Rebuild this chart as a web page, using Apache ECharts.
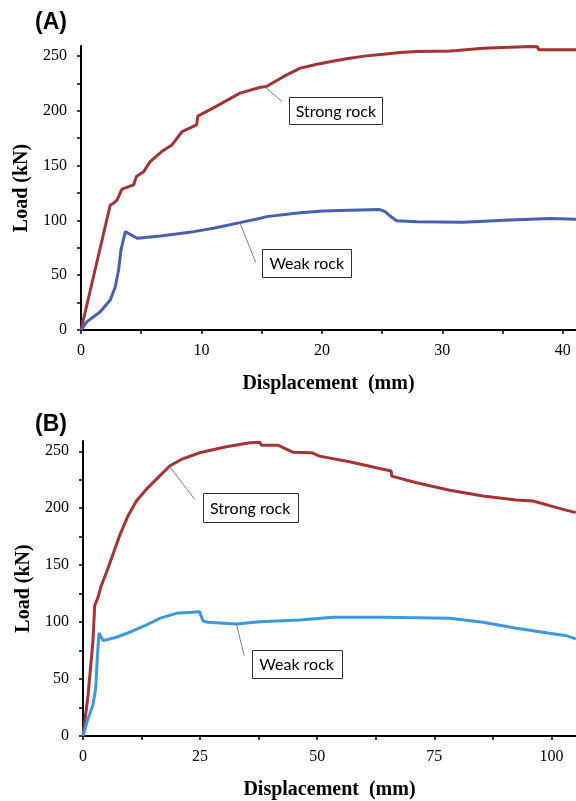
<!DOCTYPE html>
<html>
<head>
<meta charset="utf-8">
<script src="https://cdn.jsdelivr.net/npm/echarts@6/dist/echarts.min.js"></script>
<style>
html,body{margin:0;padding:0;background:#fff;}
#chart{width:576px;height:801px;}
</style>
</head>
<body>
<div id="chart"></div>
<script>
// ---- Panel A data (Displacement mm, Load kN) ----
const strongA_x = [0, 2.43, 2.7, 2.85, 3.0, 3.4, 4.37, 4.6, 5.2, 5.75, 6.7, 7.55, 8.4, 9.6, 9.7, 11.3, 13.2, 14.9, 15.4, 16.8, 18.2, 19.6, 21.0, 22.3, 23.7, 25.1, 26.5, 27.9, 30.6, 31.2, 33.4, 37.3, 37.9, 38.0, 41.1];
const strongA_y = [0, 114, 115.6, 114, 118.6, 128.4, 132.3, 140, 144.4, 153.6, 162.7, 168.8, 181, 187, 195, 204.4, 216, 221.4, 222, 231, 238.8, 242.4, 245.4, 247.9, 250, 251.5, 253, 253.9, 254.5, 255, 257, 258.5, 258.3, 255.5, 255.5];
const weakA_x = [0, 0.5, 1.6, 2.43, 2.85, 3.12, 3.32, 3.68, 4.65, 6.6, 9.35, 11.0, 13.2, 14.9, 15.4, 18.2, 20.1, 22.3, 24.8, 25.25, 25.8, 26.2, 27.9, 31.75, 35.6, 39.0, 41.1];
const weakA_y = [0, 7.6, 16.7, 27.4, 39.5, 54.7, 73, 89.7, 83.7, 85.8, 89.7, 92.8, 97.9, 101.9, 103.4, 107, 108.6, 109.2, 109.8, 108, 102.8, 99.7, 98.8, 98.2, 100.4, 101.6, 101];

// ---- Panel B data ----
const strongB_x = [0, 1.07, 2.1, 2.5, 3.2, 3.9, 5.0, 6.4, 7.8, 9.6, 11.4, 13.5, 16.0, 18.5, 21.0, 24.9, 30.6, 35.6, 37.7, 38.1, 41.6, 44.8, 48.8, 50.5, 56.9, 62.6, 65.8, 65.9, 71.2, 78.3, 85.4, 92.5, 96.1, 101.1, 105.2];
const strongB_y = [0, 35.6, 82.3, 114.4, 121.7, 131.9, 143.6, 159.6, 175.7, 193.2, 206.3, 216.5, 226.8, 237, 242.8, 248.7, 253.9, 257.4, 258, 255.3, 255.3, 249.2, 248.7, 245.7, 240.8, 235.5, 232.6, 228.2, 222.4, 215.7, 210.7, 207.2, 206.3, 200.5, 196.1];
const weakB_x = [0, 1.07, 2.1, 2.7, 3.0, 3.4, 4.3, 7.1, 10.0, 13.2, 16.4, 19.9, 24.9, 25.6, 26.7, 32.7, 37.7, 46.3, 53.4, 64.0, 78.3, 85.4, 92.5, 99.6, 103.2, 105.2];
const weakB_y = [0, 15.1, 26.8, 41.4, 64.8, 90.5, 83.7, 86.7, 91.1, 96.8, 103.3, 107.7, 109.1, 101.2, 99.8, 98.3, 100.4, 101.8, 104.2, 104.2, 103.3, 99.8, 94.6, 90.2, 88.1, 85.2];

// ---- Axis ticks / labels ----
const yTicks = [0, 25, 50, 75, 100, 125, 150, 175, 200, 225, 250];
const yLabels = [0, 50, 100, 150, 200, 250];
const xTicksA = [0, 5, 10, 15, 20, 25, 30, 35, 40];
const xLabelsA = [0, 10, 20, 30, 40];
const xTicksB = [0, 12.5, 25, 37.5, 50, 62.5, 75, 87.5, 100];
const xLabelsB = [0, 25, 50, 75, 100];

const panelTitles = ['(A)', '(B)'];
const seriesNames = ['Strong rock', 'Weak rock'];

// annotations: [panel, anchor(x,y), lineEnd(x,y), boxTopLeft(x,y), text]
const annotations = [
  [0, [15.3, 221.4], [16.7, 208.3], [17.3, 212.6], 'Strong rock'],
  [0, [13.2, 97.5], [14.5, 62], [15.05, 73.9], 'Weak rock'],
  [1, [18.5, 236.5], [23.85, 207.8], [25.55, 213], 'Strong rock'],
  [1, [32.75, 98.3], [34.4, 70.6], [36.0, 75.6], 'Weak rock']
];
const boxSizes = [[93, 27], [89, 28], [95, 29], [90, 28]];

const zip = (xs, ys) => xs.map((x, i) => [x, ys[i]]);

const serif = '"Liberation Serif", "DejaVu Serif", serif';
const axisCommon = {
  axisLine: { show: true, onZero: false, lineStyle: { color: '#000', width: 2 } },
  axisTick: { show: true, inside: false, length: 4, lineStyle: { color: '#000', width: 1.5 } },
  splitLine: { show: false },
  axisLabel: { color: '#000', fontFamily: serif, fontSize: 16 },
  nameTextStyle: { color: '#000', fontFamily: serif, fontSize: 20, fontWeight: 'bold' }
};

function xAxis(gi, max, ticks, labels) {
  return Object.assign({}, axisCommon, {
    type: 'value', gridIndex: gi, min: 0, max: max,
    name: 'Displacement  (mm)', nameLocation: 'middle', nameGap: 44,
    axisTick: Object.assign({}, axisCommon.axisTick, { customValues: ticks }),
    axisLabel: Object.assign({}, axisCommon.axisLabel, { customValues: labels, margin: 13 })
  });
}
function yAxis(gi) {
  return Object.assign({}, axisCommon, {
    type: 'value', gridIndex: gi, min: 0, max: 259,
    name: 'Load (kN)', nameLocation: 'middle', nameGap: 48,
    axisTick: Object.assign({}, axisCommon.axisTick, { customValues: yTicks }),
    axisLabel: Object.assign({}, axisCommon.axisLabel, { customValues: yLabels, margin: 14 })
  });
}

const chart = echarts.init(document.getElementById('chart'), null, { renderer: 'canvas' });

const lineSeries = (name, xi, data, color) => ({
  name: name, type: 'line', xAxisIndex: xi, yAxisIndex: xi,
  data: data, showSymbol: false, symbol: 'none', smooth: false,
  lineStyle: { color: color, width: 3 }, silent: true, animation: false
});

chart.setOption({
  animation: false,
  backgroundColor: '#fff',
  grid: [
    { left: 81, top: 46, width: 495, height: 284 },
    { left: 83, top: 441, width: 493, height: 296 }
  ],
  xAxis: [xAxis(0, 41.1, xTicksA, xLabelsA), xAxis(1, 105.25, xTicksB, xLabelsB)],
  yAxis: [yAxis(0), yAxis(1)],
  series: [
    lineSeries(seriesNames[0], 0, zip(strongA_x, strongA_y), '#a23433'),
    lineSeries(seriesNames[1], 0, zip(weakA_x, weakA_y), '#4860b2'),
    lineSeries(seriesNames[0], 1, zip(strongB_x, strongB_y), '#a63434'),
    lineSeries(seriesNames[1], 1, zip(weakB_x, weakB_y), '#3d98de')
  ]
});

const graphics = [
  { type: 'text', left: 35, top: 11, style: { text: panelTitles[0], fontFamily: '"Liberation Sans", Arial, sans-serif', fontWeight: 'bold', fontSize: 23, fill: '#000' } },
  { type: 'text', left: 35, top: 413, style: { text: panelTitles[1], fontFamily: '"Liberation Sans", Arial, sans-serif', fontWeight: 'bold', fontSize: 23, fill: '#000' } }
];
annotations.forEach((a, i) => {
  const finder = { gridIndex: a[0] };
  const p0 = chart.convertToPixel(finder, a[1]);
  const p1 = chart.convertToPixel(finder, a[2]);
  const b = chart.convertToPixel(finder, a[3]);
  const w = boxSizes[i][0], h = boxSizes[i][1];
  graphics.push({ type: 'line', shape: { x1: p0[0], y1: p0[1], x2: p1[0], y2: p1[1] }, style: { stroke: '#808080', lineWidth: 1 }, z: 10 });
  graphics.push({ type: 'rect', shape: { x: Math.round(b[0]) + 0.5, y: Math.round(b[1]) + 0.5, width: w, height: h }, style: { fill: '#fff', stroke: '#333', lineWidth: 1 }, z: 10 });
  graphics.push({ type: 'text', x: b[0] + w / 2, y: b[1] + h / 2 + 1, style: { text: a[4], fontFamily: 'Lato, "Open Sans", sans-serif', fontSize: 16, fill: '#000', align: 'center', verticalAlign: 'middle' }, z: 11 });
});
chart.setOption({ graphic: graphics });
</script>
</body>
</html>
